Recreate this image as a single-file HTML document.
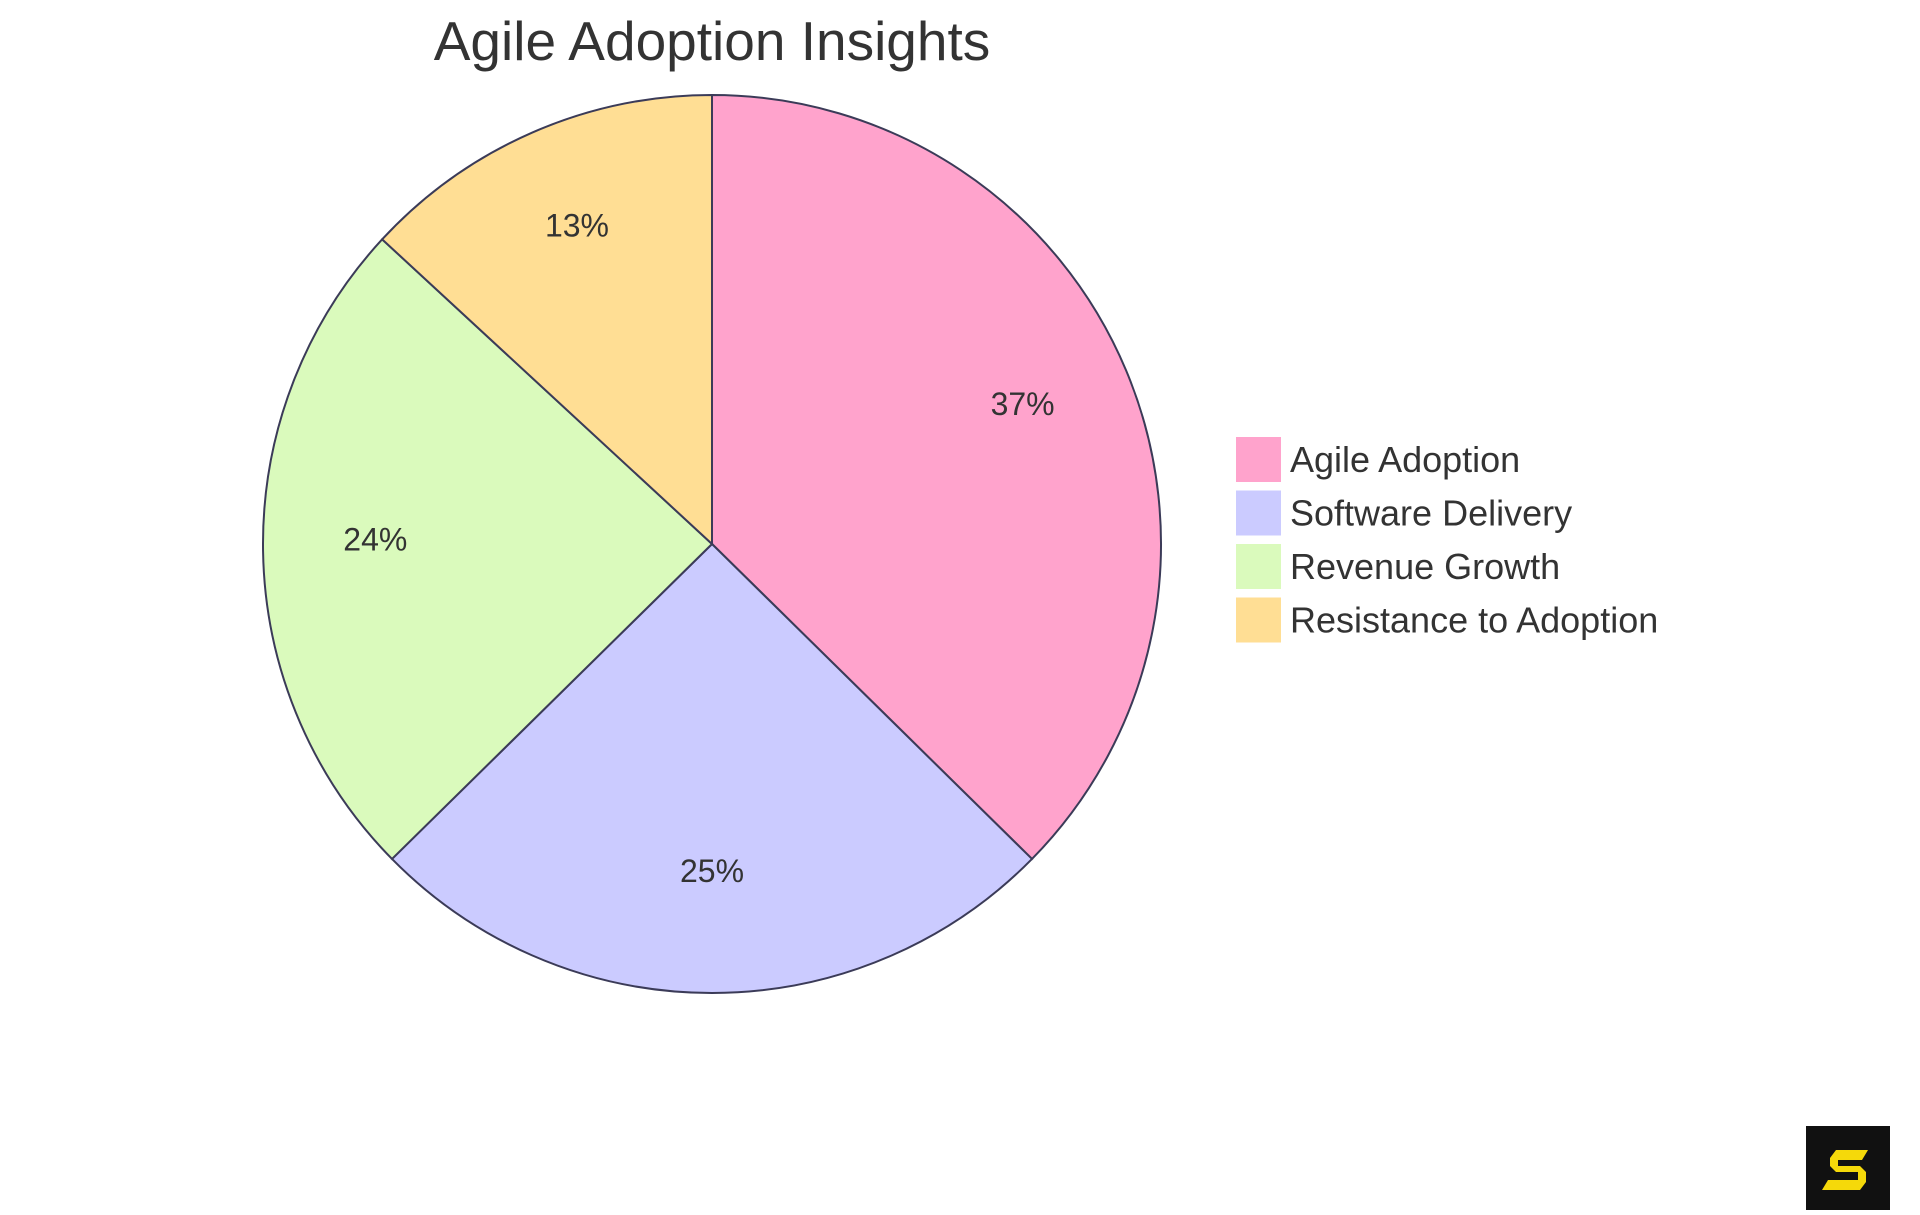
<!DOCTYPE html>
<html><head><meta charset="utf-8"><style>
html,body{margin:0;padding:0;background:#fff;}
svg{display:block;font-family:"Liberation Sans",sans-serif;}
</style></head><body>
<svg id="chart" width="1920" height="1215" viewBox="0 0 1920 1215">
<text x="712" y="60" text-anchor="middle" font-size="55" fill="#333">Agile Adoption Insights</text>
<g id="slices"></g>
<g id="labels"></g>
<g id="legend"></g>
<g>
<rect x="1806" y="1126" width="84" height="84" fill="#111"/>
<path d="M1868 1150 h-32 l-6 8 v8 l6 6 h22 v8 h-30 l-6 10 h38 l6 -8 v-10 l-6 -6 h-22 v-6 h24 z" fill="#f5d90a"/>
</g>
</svg>
<script>
const categories = ["Agile Adoption","Software Delivery","Revenue Growth","Resistance to Adoption"];
const values = [37,25,24,13];
const colors = ["#ffa3cc","#cbcbff","#dafabc","#ffde94"];
const NS="http://www.w3.org/2000/svg";
const cx=712, cy=544, r=449;
const total=values.reduce((a,b)=>a+b,0);
const gS=document.getElementById('slices'), gL=document.getElementById('labels'), gG=document.getElementById('legend');
function pt(a,rr){return [cx+rr*Math.sin(a), cy-rr*Math.cos(a)];}
let start=0;
values.forEach((v,i)=>{
  const ang=v/total*2*Math.PI, end=start+ang;
  const [x1,y1]=pt(start,r),[x2,y2]=pt(end,r);
  const p=document.createElementNS(NS,'path');
  p.setAttribute('d',`M${cx},${cy} L${x1},${y1} A${r},${r} 0 ${ang>Math.PI?1:0} 1 ${x2},${y2} Z`);
  p.setAttribute('fill',colors[i]);p.setAttribute('stroke','#3b3b58');p.setAttribute('stroke-width','2');
  
  
  gS.appendChild(p);
  const [lx,ly]=pt(start+ang/2,r*0.75);
  const t=document.createElementNS(NS,'text');
  t.setAttribute('x',lx);t.setAttribute('y',ly+1);t.setAttribute('text-anchor','middle');
  t.setAttribute('font-size','32');t.setAttribute('fill','#333');
  t.textContent=Math.round(v/total*100)+'%';
  
  
  gL.appendChild(t);
  start=end;
});
categories.forEach((c,i)=>{
  const g=document.createElementNS(NS,'g');
  
  
  const y=437+i*53.5;
  const rc=document.createElementNS(NS,'rect');
  rc.setAttribute('x',1236);rc.setAttribute('y',y);rc.setAttribute('width',45);rc.setAttribute('height',45);
  rc.setAttribute('fill',colors[i]);
  const t=document.createElementNS(NS,'text');
  t.setAttribute('x',1290);t.setAttribute('y',y+35);t.setAttribute('font-size','36');t.setAttribute('fill','#333');
  t.textContent=c;
  g.appendChild(rc);g.appendChild(t);gG.appendChild(g);
});
</script>
</body></html>
